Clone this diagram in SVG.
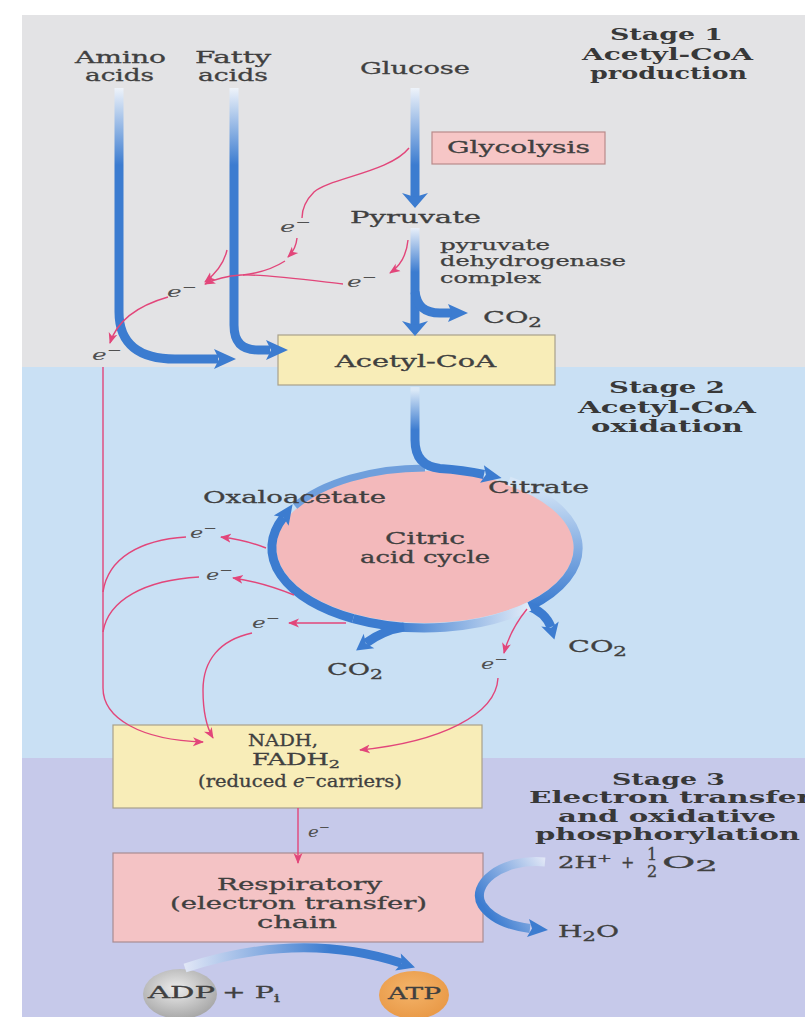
<svg xmlns="http://www.w3.org/2000/svg" width="805" height="1017" viewBox="0 0 805 1017">
<style>
.t{font-family:"DejaVu Serif","Liberation Serif",serif;font-size:16px;fill:#404040;stroke:#404040;stroke-width:0.3}
.s{font-family:"DejaVu Serif","Liberation Serif",serif;font-size:14px;fill:#404040;stroke:#404040;stroke-width:0.25}
.h{font-family:"DejaVu Serif","Liberation Serif",serif;font-size:17px;font-weight:bold;fill:#383838}
.e{font-family:"DejaVu Serif","Liberation Serif",serif;font-size:15px;fill:#505050}
.red{fill:none;stroke:#e2467a;stroke-width:1.4}
.blue{fill:none;stroke:#3c7cd0;stroke-width:9}
.bh{fill:#3c7cd0}
.box1{fill:#f8edb8;stroke:#a9a18a;stroke-width:1.2}
.box2{fill:#f4c3c5;stroke:#a88c92;stroke-width:1.2}
</style>
<defs>
<marker id="ra" markerUnits="userSpaceOnUse" markerWidth="12" markerHeight="10" refX="10" refY="5" orient="auto"><path d="M0,0.5 L11,5 L0,9.5 L3,5 Z" fill="#e2467a"/></marker>
<linearGradient id="gTop" gradientUnits="userSpaceOnUse" x1="0" y1="88" x2="0" y2="165"><stop offset="0" stop-color="#eef3fa"/><stop offset="1" stop-color="#3c7cd0"/></linearGradient>
<linearGradient id="gPy" gradientUnits="userSpaceOnUse" x1="0" y1="228" x2="0" y2="272"><stop offset="0" stop-color="#e8eff9"/><stop offset="1" stop-color="#3c7cd0"/></linearGradient>
<linearGradient id="gAc" gradientUnits="userSpaceOnUse" x1="0" y1="390" x2="0" y2="430"><stop offset="0" stop-color="#dbe9f7"/><stop offset="1" stop-color="#3c7cd0"/></linearGradient>
<linearGradient id="gR" gradientUnits="userSpaceOnUse" x1="0" y1="485" x2="0" y2="605"><stop offset="0" stop-color="#d6e6f7"/><stop offset="1" stop-color="#3c7cd0"/></linearGradient>
<linearGradient id="gB" gradientUnits="userSpaceOnUse" x1="530" y1="0" x2="395" y2="0"><stop offset="0" stop-color="#e2ecf8"/><stop offset="1" stop-color="#3c7cd0"/></linearGradient>
<linearGradient id="gH" gradientUnits="userSpaceOnUse" x1="545" y1="860" x2="482" y2="905"><stop offset="0" stop-color="#e0e6f6"/><stop offset="1" stop-color="#3c7cd0"/></linearGradient>
<linearGradient id="gA" gradientUnits="userSpaceOnUse" x1="185" y1="0" x2="330" y2="0"><stop offset="0" stop-color="#e0e6f6"/><stop offset="1" stop-color="#3c7cd0"/></linearGradient>
<radialGradient id="gADP" cx="0.45" cy="0.4" r="0.6"><stop offset="0" stop-color="#ececec"/><stop offset="1" stop-color="#a8a8a8"/></radialGradient>
<radialGradient id="gATP" cx="0.45" cy="0.4" r="0.6"><stop offset="0" stop-color="#f4b46a"/><stop offset="1" stop-color="#e99a48"/></radialGradient>
</defs>

<!-- backgrounds -->
<rect x="0" y="0" width="805" height="1017" fill="#ffffff"/>
<rect x="22" y="15" width="783" height="352" fill="#e3e3e5"/>
<rect x="22" y="367" width="783" height="391" fill="#c9e0f4"/>
<rect x="22" y="758" width="783" height="259" fill="#c6c9ea"/>

<!-- stage labels -->
<g id="stage1">
<text class="h" x="610" y="40" textLength="113" lengthAdjust="spacingAndGlyphs">Stage 1</text>
<text class="h" x="582" y="60" textLength="171" lengthAdjust="spacingAndGlyphs">Acetyl-CoA</text>
<text class="h" x="590" y="79" textLength="157" lengthAdjust="spacingAndGlyphs">production</text>
</g>
<g id="stage2">
<text class="h" x="609" y="393" textLength="116" lengthAdjust="spacingAndGlyphs">Stage 2</text>
<text class="h" x="578" y="413" textLength="178" lengthAdjust="spacingAndGlyphs">Acetyl-CoA</text>
<text class="h" x="591" y="432" textLength="152" lengthAdjust="spacingAndGlyphs">oxidation</text>
</g>
<g id="stage3">
<text class="h" x="612" y="785" textLength="113" lengthAdjust="spacingAndGlyphs">Stage 3</text>
<text class="h" x="529" y="803" textLength="283" lengthAdjust="spacingAndGlyphs">Electron transfer</text>
<text class="h" x="558" y="822" textLength="218" lengthAdjust="spacingAndGlyphs">and oxidative</text>
<text class="h" x="535" y="840" textLength="265" lengthAdjust="spacingAndGlyphs">phosphorylation</text>
</g>

<!-- box nodes (drawn under connectors) -->
<g id="glycolysis"><rect x="432" y="132" width="173" height="32" fill="#f6c6c6" stroke="#b98a8a" stroke-width="1.2"/><text class="t" x="447" y="153" textLength="143" lengthAdjust="spacingAndGlyphs">Glycolysis</text></g>
<g id="acetylcoa"><rect class="box1" x="278" y="335" width="277" height="50"/><text class="t" x="335" y="367" textLength="161" lengthAdjust="spacingAndGlyphs">Acetyl-CoA</text></g>
<g id="cycle">
<ellipse cx="425" cy="547" rx="149" ry="76" fill="#f3b9bb"/>
<text class="t" x="385" y="544" textLength="80" lengthAdjust="spacingAndGlyphs">Citric</text>
<text class="t" x="360" y="563" textLength="130" lengthAdjust="spacingAndGlyphs">acid cycle</text>
</g>
<g id="nadh"><rect class="box1" x="113" y="725" width="369" height="83"/>
<text class="t" x="248" y="746" textLength="70" lengthAdjust="spacingAndGlyphs">NADH,</text>
<text class="t" x="252" y="765" textLength="88" lengthAdjust="spacingAndGlyphs">FADH<tspan dy="3" font-size="11">2</tspan></text>
<text class="t" x="198" y="787" textLength="204" lengthAdjust="spacingAndGlyphs">(reduced <tspan font-style="italic">e</tspan><tspan dy="-6" font-size="11">−</tspan><tspan dy="6">carriers)</tspan></text>
</g>
<g id="respiratory"><rect class="box2" x="113" y="853" width="370" height="89"/>
<text class="t" x="217" y="890" textLength="165" lengthAdjust="spacingAndGlyphs">Respiratory</text>
<text class="t" x="170" y="909" textLength="257" lengthAdjust="spacingAndGlyphs">(electron transfer)</text>
<text class="t" x="257" y="928" textLength="80" lengthAdjust="spacingAndGlyphs">chain</text>
</g>
<g id="adp"><ellipse cx="180" cy="994" rx="37" ry="25" fill="url(#gADP)"/><text class="t" x="148" y="998" textLength="67" lengthAdjust="spacingAndGlyphs">ADP</text><text class="t" x="222" y="998" textLength="58" lengthAdjust="spacingAndGlyphs">+ P<tspan dy="4" font-size="11">i</tspan></text></g>
<g id="atp"><ellipse cx="414" cy="995" rx="35" ry="24" fill="url(#gATP)"/><text class="t" x="388" y="999" textLength="53" lengthAdjust="spacingAndGlyphs">ATP</text></g>

<!-- connectors -->
<g id="connectors">
<!-- blue stage 1 -->
<path d="M119,88 V312 C119,345 140,359 175,359 H218" stroke="url(#gTop)" stroke-width="9" fill="none"/>
<polygon class="bh" points="214,349 236,359 214,369 219,359"/>
<path d="M234,88 V325 C234,343 243,350 258,350 H270" stroke="url(#gTop)" stroke-width="9" fill="none"/>
<polygon class="bh" points="266,340 288,350 266,360 271,350"/>
<path d="M415,88 V197" stroke="url(#gTop)" stroke-width="9" fill="none"/>
<polygon class="bh" points="402,193 415,208 428,193 415,197"/>
<path d="M415,228 V325" stroke="url(#gPy)" stroke-width="9" fill="none"/>
<polygon class="bh" points="402,321 415,336 428,321 415,325"/>
<path class="blue" d="M415,292 C417,306 424,313 440,313 H452"/>
<polygon class="bh" points="448,304 468,313 448,322 452,313"/>

<!-- cycle ring -->
<path d="M295,506 A153,80 0 0,1 425,468" fill="none" stroke="#6f9fdc" stroke-width="7"/>
<path d="M415,387 V440 Q415,466 440,468.4 A153,80 0 0,1 484,474.5" fill="none" stroke="url(#gAc)" stroke-width="9"/>
<polygon class="bh" points="483.9,465.2 501.6,478.1 480.1,482.8 485.9,474.8"/>
<path d="M509,481 A153,80 0 0,1 529.3,606.5" fill="none" stroke="url(#gR)" stroke-width="9"/>
<path class="blue" d="M528,606 Q545,612 551,627"/>
<polygon class="bh" points="558.7,621.5 554.4,639.4 541.3,626.5 551.1,627.8"/>
<path d="M529.3,606.5 A153,80 0 0,1 353.2,618.6" fill="none" stroke="url(#gB)" stroke-width="9"/>
<path class="blue" d="M404,627 Q384,630 366,643"/>
<polygon class="bh" points="374.3,648.3 356.1,650.5 363.7,633.7 365.8,643.4"/>
<path class="blue" d="M353.2,618.6 A153,80 0 0,1 283.5,517.3"/>
<polygon class="bh" points="288.6,525.7 292.6,504.2 273.8,515.5 283.5,517.3"/>

<!-- red stage 1 -->
<path class="red" d="M409,148 C390,172 330,178 314,192 C305,201 302,210 302,218"/>
<path class="red" d="M297,238 Q296,249 288,257" marker-end="url(#ra)"/>
<path class="red" d="M408,240 Q406,262 390,273" marker-end="url(#ra)"/>
<path class="red" d="M285,261 Q268,272 243,275"/>
<path class="red" d="M343,284 C300,279 262,274 241,275 C226,276 215,279 205,284" marker-end="url(#ra)"/>
<path class="red" d="M227,250 Q223,268 205,282" marker-end="url(#ra)"/>
<path class="red" d="M168,297 C140,305 118,318 110,343" marker-end="url(#ra)"/>
<path class="red" d="M103,367 V688 C103,718 140,740 203,742" marker-end="url(#ra)"/>
<!-- red stage 2 -->
<path class="red" d="M266,548 Q246,540 221,537" marker-end="url(#ra)"/>
<path class="red" d="M186,537 C140,540 108,558 103,592"/>
<path class="red" d="M294,595 Q262,582 233,578" marker-end="url(#ra)"/>
<path class="red" d="M199,577 C145,580 108,600 103,632"/>
<path class="red" d="M346,623 H289" marker-end="url(#ra)"/>
<path class="red" d="M252,633 C220,640 203,660 203,690 C203,715 207,728 213,738" marker-end="url(#ra)"/>
<path class="red" d="M527,609 Q510,630 504,653" marker-end="url(#ra)"/>
<path class="red" d="M498,678 C496,715 440,742 360,750" marker-end="url(#ra)"/>
<!-- red stage 3 -->
<path class="red" d="M298,808 V863" marker-end="url(#ra)"/>

<!-- blue stage 3 -->
<path d="M545,862 C500,858 470,885 482,905 C492,920 510,926 530,928.5" fill="none" stroke="url(#gH)" stroke-width="9"/>
<polygon class="bh" points="529,919 548,930 527,937 532,928.4"/>
<path d="M185,968 Q300,930 401.8,963.2" fill="none" stroke="url(#gA)" stroke-width="9"/>
<polygon class="bh" points="400.8,953.4 415,967.6 395.2,970.6 401.8,963.2"/>
</g>

<!-- e- labels -->
<g id="elabels">
<text class="e" x="280" y="232" textLength="31" lengthAdjust="spacingAndGlyphs"><tspan font-style="italic">e</tspan><tspan dy="-6" font-size="11">−</tspan></text>
<text class="e" x="347" y="287" textLength="30" lengthAdjust="spacingAndGlyphs"><tspan font-style="italic">e</tspan><tspan dy="-6" font-size="11">−</tspan></text>
<text class="e" x="167" y="297" textLength="30" lengthAdjust="spacingAndGlyphs"><tspan font-style="italic">e</tspan><tspan dy="-6" font-size="11">−</tspan></text>
<text class="e" x="92" y="360" textLength="30" lengthAdjust="spacingAndGlyphs"><tspan font-style="italic">e</tspan><tspan dy="-6" font-size="11">−</tspan></text>
<text class="e" x="190" y="538" textLength="27" lengthAdjust="spacingAndGlyphs"><tspan font-style="italic">e</tspan><tspan dy="-6" font-size="11">−</tspan></text>
<text class="e" x="206" y="580" textLength="27" lengthAdjust="spacingAndGlyphs"><tspan font-style="italic">e</tspan><tspan dy="-6" font-size="11">−</tspan></text>
<text class="e" x="252" y="628" textLength="28" lengthAdjust="spacingAndGlyphs"><tspan font-style="italic">e</tspan><tspan dy="-6" font-size="11">−</tspan></text>
<text class="e" x="481" y="669" textLength="27" lengthAdjust="spacingAndGlyphs"><tspan font-style="italic">e</tspan><tspan dy="-6" font-size="11">−</tspan></text>
<text class="e" x="308" y="837" textLength="22" lengthAdjust="spacingAndGlyphs"><tspan font-style="italic">e</tspan><tspan dy="-6" font-size="11">−</tspan></text>
</g>

<!-- free label nodes -->
<g id="amino"><text class="t" x="75" y="63" textLength="91" lengthAdjust="spacingAndGlyphs">Amino</text><text class="t" x="85" y="81" textLength="69" lengthAdjust="spacingAndGlyphs">acids</text></g>
<g id="fatty"><text class="t" x="195" y="63" textLength="76" lengthAdjust="spacingAndGlyphs">Fatty</text><text class="t" x="198" y="81" textLength="70" lengthAdjust="spacingAndGlyphs">acids</text></g>
<g id="glucose"><text class="t" x="360" y="74" textLength="110" lengthAdjust="spacingAndGlyphs">Glucose</text></g>
<g id="pyruvate"><text class="t" x="350" y="223" textLength="131" lengthAdjust="spacingAndGlyphs">Pyruvate</text></g>
<g id="pdh"><text class="s" x="440" y="250" textLength="110" lengthAdjust="spacingAndGlyphs">pyruvate</text><text class="s" x="440" y="266" textLength="186" lengthAdjust="spacingAndGlyphs">dehydrogenase</text><text class="s" x="440" y="283" textLength="101" lengthAdjust="spacingAndGlyphs">complex</text></g>
<g id="co2a"><text class="t" x="483" y="323" textLength="59" lengthAdjust="spacingAndGlyphs">CO<tspan dy="4" font-size="12">2</tspan></text></g>
<g id="oxaloacetate"><text class="t" x="203" y="503" textLength="183" lengthAdjust="spacingAndGlyphs">Oxaloacetate</text></g>
<g id="citrate"><text class="t" x="488" y="493" textLength="101" lengthAdjust="spacingAndGlyphs">Citrate</text></g>
<g id="co2b"><text class="t" x="327" y="675" textLength="56" lengthAdjust="spacingAndGlyphs">CO<tspan dy="4" font-size="12">2</tspan></text></g>
<g id="co2c"><text class="t" x="568" y="652" textLength="59" lengthAdjust="spacingAndGlyphs">CO<tspan dy="4" font-size="12">2</tspan></text></g>
<g id="oxygen">
<text class="t" x="558" y="868" textLength="54" lengthAdjust="spacingAndGlyphs">2H<tspan dy="-6" font-size="11">+</tspan></text>
<text class="t" x="621" y="868">+</text>
<text class="t" x="647" y="860" font-size="9">1</text>
<text class="t" x="647" y="877" font-size="9">2</text>
<text class="t" x="662" y="868" textLength="56" lengthAdjust="spacingAndGlyphs">O<tspan dy="3" font-size="14">2</tspan></text>
</g>
<g id="water"><text class="t" x="558" y="937" textLength="61" lengthAdjust="spacingAndGlyphs">H<tspan dy="4" font-size="12">2</tspan><tspan dy="-4">O</tspan></text></g>
</svg>
